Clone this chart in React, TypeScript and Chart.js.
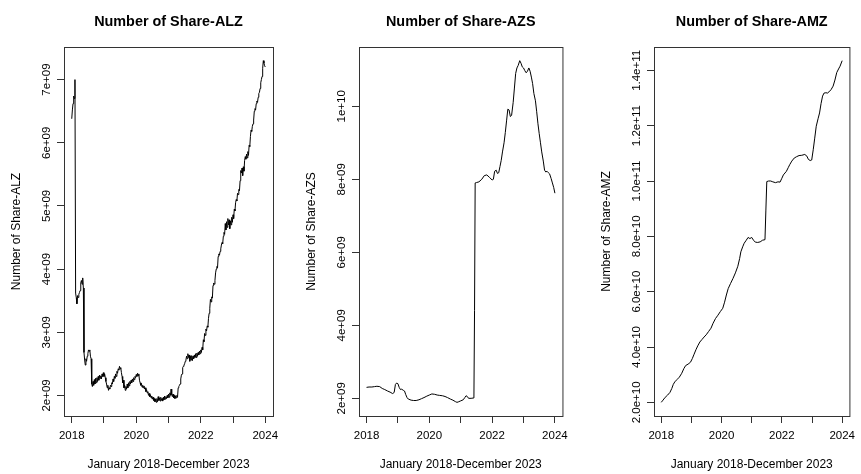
import { useEffect, useRef } from "react";
import { Chart, registerables } from "chart.js";

Chart.register(...registerables);

const FONT = '"Liberation Sans", Arial, sans-serif';

// ---- shared x axis (years) ----
const xTickValues = [2018, 2019, 2020, 2021, 2022, 2023, 2024];
const xTickLabels = ["2018", "", "2020", "", "2022", "", "2024"];
const xAxisTitle = "January 2018-December 2023";
const X_MIN = 2017.76;
const X_MAX = 2024.24;

// ---- ALZ (billions of shares), sampled every 0.02 year from 2018.00 ----
const alzStartYear = 2018;
const alzStepYears = 0.02;
const alzSharesBn = [
  6.38, 6.52, 6.62, 6.74, 6.70, 7.00, 3.62, 3.55, 3.45, 3.58,
  3.55, 3.60, 3.63, 3.66, 3.78, 3.82, 3.76, 3.86, 3.70, 2.68,
  2.56, 2.48, 2.58, 2.54, 2.62, 2.66, 2.72, 2.70, 2.72, 2.62,
  2.58, 2.18, 2.14, 2.22, 2.16, 2.25, 2.18, 2.27, 2.20, 2.28,
  2.22, 2.30, 2.24, 2.32, 2.27, 2.31, 2.26, 2.34, 2.30, 2.36,
  2.30, 2.34, 2.28, 2.22, 2.18, 2.12, 2.16, 2.08, 2.12, 2.10,
  2.16, 2.14, 2.20, 2.18, 2.26, 2.22, 2.30, 2.27, 2.34, 2.30,
  2.38, 2.35, 2.42, 2.40, 2.46, 2.42, 2.44, 2.36, 2.30, 2.20,
  2.24, 2.12, 2.16, 2.08, 2.14, 2.10, 2.18, 2.12, 2.20, 2.15,
  2.22, 2.18, 2.24, 2.20, 2.26, 2.22, 2.28, 2.25, 2.30, 2.28,
  2.33, 2.30, 2.35, 2.31, 2.34, 2.24, 2.20, 2.16, 2.19, 2.13,
  2.16, 2.12, 2.15, 2.10, 2.12, 2.06, 2.09, 2.04, 2.06, 2.00,
  2.03, 1.98, 2.01, 1.96, 1.99, 1.94, 1.97, 1.92, 1.95, 1.90,
  1.94, 1.89, 1.95, 1.90, 1.98, 1.92, 1.96, 1.91, 1.97, 1.92,
  1.95, 1.91, 1.97, 1.93, 1.99, 1.94, 1.98, 1.95, 2.00, 1.96,
  2.02, 1.97, 2.04, 2.00, 2.10, 2.01, 1.98, 2.02, 1.96, 2.00,
  1.95, 1.99, 1.96, 2.00, 1.97, 2.12, 2.14, 2.16, 2.18, 2.26,
  2.32, 2.34, 2.44, 2.46, 2.48, 2.50, 2.54, 2.56, 2.62, 2.58,
  2.66, 2.60, 2.64, 2.54, 2.62, 2.56, 2.63, 2.55, 2.62, 2.58,
  2.64, 2.60, 2.66, 2.60, 2.67, 2.62, 2.68, 2.64, 2.70, 2.66,
  2.72, 2.68, 2.76, 2.72, 2.88, 2.85, 2.98, 2.95, 3.05, 3.02,
  3.10, 3.08, 3.22, 3.30, 3.38, 3.52, 3.48, 3.56, 3.54, 3.74,
  3.78, 3.76, 3.82, 3.94, 4.00, 4.04, 4.02, 4.20, 4.24, 4.22,
  4.28, 4.32, 4.38, 4.42, 4.40, 4.52, 4.58, 4.55, 4.72, 4.62,
  4.75, 4.66, 4.80, 4.70, 4.78, 4.64, 4.76, 4.70, 4.82, 4.74,
  4.86, 4.80, 4.95, 4.92, 5.05, 5.10, 5.08, 5.20, 5.18, 5.26,
  5.24, 5.40, 5.56, 5.52, 5.60, 5.48, 5.62, 5.55, 5.72, 5.78,
  5.74, 5.82, 5.76, 5.86, 5.80, 5.96, 5.94, 6.10, 6.20, 6.18,
  6.26, 6.30, 6.36, 6.50, 6.54, 6.52, 6.62, 6.66, 6.64, 6.72,
  6.78, 6.80, 6.86, 6.95, 7.00, 7.05, 7.18, 7.30, 7.26, 7.22,
  7.20,
];
const alzYears = alzSharesBn.map((_, i) => +(alzStartYear + i * alzStepYears).toFixed(2));
const alzTickValues = [2, 3, 4, 5, 6, 7];
const alzTickLabels = ["2e+09", "3e+09", "4e+09", "5e+09", "6e+09", "7e+09"];

// ---- AZS (billions of shares) ----
const azsYears = [
  2018.00, 2018.08, 2018.17, 2018.25, 2018.33, 2018.42, 2018.50, 2018.58, 2018.67, 2018.75,
  2018.83, 2018.88, 2018.92, 2018.96, 2019.00, 2019.04, 2019.08, 2019.12, 2019.17, 2019.21,
  2019.25, 2019.29, 2019.33, 2019.42, 2019.50, 2019.58, 2019.67, 2019.75, 2019.83, 2019.92,
  2020.00, 2020.08, 2020.17, 2020.25, 2020.33, 2020.42, 2020.50, 2020.58, 2020.67, 2020.75,
  2020.83, 2020.88, 2020.92, 2021.00, 2021.08, 2021.13, 2021.17, 2021.21, 2021.25, 2021.33,
  2021.42, 2021.44, 2021.46, 2021.50, 2021.58, 2021.67, 2021.75, 2021.83, 2021.92, 2022.00,
  2022.04, 2022.08, 2022.13, 2022.17, 2022.21, 2022.25, 2022.29, 2022.33, 2022.38, 2022.42,
  2022.46, 2022.50, 2022.54, 2022.58, 2022.62, 2022.67, 2022.71, 2022.75, 2022.79, 2022.83,
  2022.88, 2022.92, 2022.96, 2023.00, 2023.04, 2023.08, 2023.12, 2023.17, 2023.21, 2023.25,
  2023.29, 2023.33, 2023.38, 2023.42, 2023.46, 2023.50, 2023.54, 2023.58, 2023.63, 2023.67,
  2023.71, 2023.75, 2023.79, 2023.83, 2023.88, 2023.92, 2023.96, 2024.00,
];
const azsSharesBn = [
  2.30, 2.31, 2.31, 2.32, 2.33, 2.32, 2.27, 2.24, 2.20, 2.17,
  2.13, 2.16, 2.38, 2.42, 2.40, 2.30, 2.24, 2.25, 2.22, 2.20,
  2.10, 2.02, 1.98, 1.95, 1.94, 1.94, 1.96, 1.99, 2.02, 2.06,
  2.09, 2.12, 2.11, 2.09, 2.08, 2.07, 2.05, 2.02, 1.98, 1.95,
  1.91, 1.89, 1.90, 1.93, 1.96, 2.02, 2.07, 2.05, 2.00, 2.00,
  2.01, 4.40, 7.90, 7.91, 7.93, 8.00, 8.10, 8.12, 8.05, 7.98,
  8.00, 8.22, 8.25, 8.16, 8.18, 8.35, 8.52, 8.75, 9.00, 9.28,
  9.60, 9.92, 9.90, 9.72, 9.75, 10.10, 10.50, 10.90, 11.05, 11.12,
  11.25, 11.18, 11.08, 11.05, 10.98, 10.92, 10.95, 11.05, 10.96, 10.80,
  10.62, 10.35, 10.15, 9.85, 9.52, 9.25, 9.00, 8.75, 8.50, 8.25,
  8.20, 8.22, 8.18, 8.15, 8.02, 7.90, 7.78, 7.62,
];
const azsTickValues = [2, 4, 6, 8, 10];
const azsTickLabels = ["2e+09", "4e+09", "6e+09", "8e+09", "1e+10"];

// ---- AMZ (billions of shares) ----
const amzYears = [
  2018.00, 2018.06, 2018.13, 2018.21, 2018.29, 2018.35, 2018.40, 2018.45, 2018.52, 2018.60,
  2018.68, 2018.75, 2018.81, 2018.89, 2018.97, 2019.03, 2019.09, 2019.15, 2019.21, 2019.28,
  2019.35, 2019.42, 2019.49, 2019.57, 2019.65, 2019.72, 2019.80, 2019.88, 2019.96, 2020.04,
  2020.10, 2020.16, 2020.22, 2020.30, 2020.38, 2020.46, 2020.54, 2020.60, 2020.64, 2020.70,
  2020.75, 2020.82, 2020.88, 2020.94, 2021.00, 2021.06, 2021.12, 2021.20, 2021.28, 2021.36,
  2021.44, 2021.47, 2021.50, 2021.56, 2021.63, 2021.70, 2021.79, 2021.87, 2021.94, 2022.00,
  2022.05, 2022.15, 2022.21, 2022.26, 2022.33, 2022.41, 2022.49, 2022.57, 2022.66, 2022.76,
  2022.83, 2022.88, 2022.94, 2022.99, 2023.04, 2023.09, 2023.14, 2023.20, 2023.25, 2023.30,
  2023.35, 2023.40, 2023.46, 2023.52, 2023.56, 2023.63, 2023.70, 2023.76, 2023.82, 2023.88,
  2023.93, 2024.00,
];
const amzSharesBn = [
  20.0, 20.8, 21.8, 22.6, 23.6, 25.0, 26.5, 27.4, 28.2, 29.1,
  30.5, 32.2, 33.3, 33.8, 34.5, 35.8, 37.4, 39.0, 40.4, 41.8,
  42.7, 43.6, 44.4, 45.6, 46.8, 48.6, 50.3, 51.5, 52.8, 54.0,
  56.2, 58.8, 61.1, 63.0, 64.8, 66.8, 69.2, 72.0, 74.4, 76.2,
  77.5, 78.6, 79.6, 79.2, 79.6, 78.6, 77.9, 77.8, 78.0, 78.6,
  78.8, 89.5, 99.8, 100.0, 100.0, 99.7, 99.4, 99.7, 99.6, 101.0,
  102.2, 103.5, 104.8, 105.9, 107.2, 108.3, 108.8, 109.2, 109.3, 109.6,
  109.0, 107.8, 107.4, 107.6, 111.3, 115.5, 119.8, 122.5, 124.6, 128.0,
  130.7, 131.8, 131.9, 131.8, 132.2, 133.0, 134.3, 136.5, 139.2, 140.5,
  141.5, 143.5,
];
const amzTickValues = [20, 40, 60, 80, 100, 120, 140];
const amzTickLabels = ["2.0e+10", "4.0e+10", "6.0e+10", "8.0e+10", "1.0e+11", "1.2e+11", "1.4e+11"];

// ---- layout ----
const CANVAS_H = 474;
const BOX_TOP = 47;
const BOX_BOTTOM = 416;
const Y_AXIS_W = 64;

const panels = [
  { title: "Number of Share-ALZ", years: alzYears, values: alzSharesBn, tickValues: alzTickValues, tickLabels: alzTickLabels, boxLeft: 64, boxRight: 273, padRight: 14 },
  { title: "Number of Share-AZS", years: azsYears, values: azsSharesBn, tickValues: azsTickValues, tickLabels: azsTickLabels, boxLeft: 359, boxRight: 566, padRight: 8 },
  { title: "Number of Share-AMZ", years: amzYears, values: amzSharesBn, tickValues: amzTickValues, tickLabels: amzTickLabels, boxLeft: 654, boxRight: 860, padRight: 1 },
];

type PanelCfg = (typeof panels)[number];

function Panel({ cfg }: { cfg: PanelCfg }) {
  const ref = useRef<HTMLCanvasElement>(null);
  const canvasLeft = cfg.boxLeft - Y_AXIS_W;
  const width = cfg.boxRight - cfg.boxLeft + Y_AXIS_W + cfg.padRight;

  useEffect(() => {
    if (!ref.current) return;
    const lo = Math.min(...cfg.values);
    const hi = Math.max(...cfg.values);
    const pad = (hi - lo) * 0.04;
    const points = cfg.years.map((x, i) => ({ x, y: cfg.values[i] }));

    const decor = {
      id: "decor",
      afterDraw(chart: any) {
        const { ctx, chartArea: a } = chart;
        ctx.save();
        ctx.strokeStyle = "#333";
        ctx.lineWidth = 1;
        ctx.strokeRect(a.left + 0.5, a.top + 0.5, a.right - a.left, a.bottom - a.top);
        ctx.fillStyle = "#000";
        ctx.font = `bold 14.4px ${FONT}`;
        ctx.textAlign = "center";
        ctx.textBaseline = "middle";
        ctx.fillText(cfg.title, (a.left + a.right) / 2, 22);
        const ys = chart.scales.y;
        ctx.font = `11.5px ${FONT}`;
        ctx.textBaseline = "alphabetic";
        cfg.tickValues.forEach((v, i) => {
          const py = ys.getPixelForValue(v);
          ctx.save();
          ctx.translate(a.left - 14, py);
          ctx.rotate(-Math.PI / 2);
          ctx.fillText(cfg.tickLabels[i], 0, 0);
          ctx.restore();
        });
        ctx.restore();
      },
    };

    const gridOpts = {
      drawOnChartArea: false,
      drawTicks: true,
      tickLength: 7,
      color: "#333",
      lineWidth: 1,
    };

    const chart = new Chart(ref.current, {
      type: "line",
      data: {
        datasets: [
          {
            data: points,
            borderColor: "#000",
            borderWidth: 1,
            pointRadius: 0,
            tension: 0,
            fill: false,
          },
        ],
      },
      options: {
        animation: false,
        responsive: false,
        events: [],
        layout: { padding: { left: 0, right: cfg.padRight, top: BOX_TOP, bottom: 0 } },
        plugins: { legend: { display: false }, tooltip: { enabled: false }, title: { display: false } },
        scales: {
          x: {
            type: "linear",
            min: X_MIN,
            max: X_MAX,
            afterBuildTicks: (s: any) => {
              s.ticks = xTickValues.map((v) => ({ value: v }));
            },
            afterFit: (s: any) => {
              s.height = CANVAS_H - BOX_BOTTOM;
            },
            grid: gridOpts,
            border: { display: false },
            ticks: {
              autoSkip: false,
              maxRotation: 0,
              minRotation: 0,
              padding: 6,
              color: "#000",
              font: { family: FONT, size: 11.5 },
              callback: (_v: any, i: number) => xTickLabels[i],
            },
            title: {
              display: true,
              text: xAxisTitle,
              color: "#000",
              font: { family: FONT, size: 12 },
              padding: { top: 0, bottom: 2.5 },
            },
          },
          y: {
            type: "linear",
            min: lo - pad,
            max: hi + pad,
            afterBuildTicks: (s: any) => {
              s.ticks = cfg.tickValues.map((v) => ({ value: v }));
            },
            afterFit: (s: any) => {
              s.width = Y_AXIS_W;
            },
            grid: gridOpts,
            border: { display: false },
            ticks: { display: false },
            title: {
              display: true,
              text: cfg.title,
              color: "#000",
              font: { family: FONT, size: 12 },
              padding: { top: 9.5, bottom: 0 },
            },
          },
        },
      } as any,
      plugins: [decor],
    });
    return () => chart.destroy();
  }, [cfg]);

  return (
    <canvas
      ref={ref}
      width={width}
      height={CANVAS_H}
      style={{ position: "absolute", left: canvasLeft, top: 0, display: "block" }}
    />
  );
}

export default function App() {
  return (
    <div
      style={{
        position: "absolute",
        left: 0,
        top: 0,
        width: 861,
        height: CANVAS_H,
        background: "#fff",
        overflow: "hidden",
      }}
    >
      {panels.map((p) => (
        <Panel key={p.title} cfg={p} />
      ))}
    </div>
  );
}
